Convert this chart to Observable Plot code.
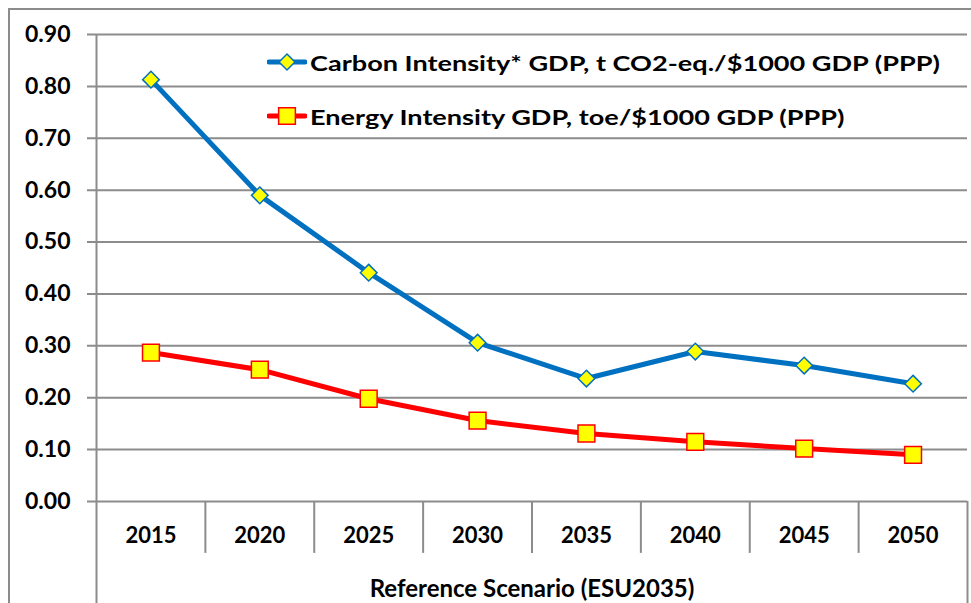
<!DOCTYPE html>
<html>
<head>
<meta charset="utf-8">
<script src="https://cdn.jsdelivr.net/npm/d3@7"></script>
<script src="https://cdn.jsdelivr.net/npm/@observablehq/plot@0.6"></script>
<style>
  html, body { margin: 0; padding: 0; background: #fff; }
  body { width: 971px; height: 603px; position: relative; overflow: hidden; font-family: Lato, "Open Sans", sans-serif; }
  #frame { position: absolute; left: 8px; top: 8px; width: 1000px; height: 700px; border-left: 2px solid #8c8c8c; border-top: 2px solid #8c8c8c; box-sizing: border-box; }
  #chart { position: absolute; left: 0; top: 0; }
  #legend { position: absolute; left: 267px; top: 46px; font-weight: bold; font-size: 21px; color: #000; }
  .row { display: flex; align-items: center; height: 32px; margin-bottom: 22px; white-space: nowrap; }
  .row svg { margin-right: 3px; flex: none; }
  .row span { display: inline-block; transform: scaleX(1.29); transform-origin: left center; }
</style>
</head>
<body>
<div id="frame"></div>
<div id="chart"></div>
<div id="legend"></div>
<script>
const years = [2015, 2020, 2025, 2030, 2035, 2040, 2045, 2050];
const carbonIntensity = [0.813, 0.590, 0.441, 0.306, 0.237, 0.289, 0.262, 0.227];
const energyIntensity = [0.287, 0.254, 0.198, 0.156, 0.131, 0.115, 0.102, 0.090];
const yTicks = [0, 0.1, 0.2, 0.3, 0.4, 0.5, 0.6, 0.7, 0.8, 0.9];
const seriesNames = [
  "Carbon Intensity* GDP, t CO2-eq./$1000 GDP (PPP)",
  "Energy Intensity GDP, toe/$1000 GDP (PPP)"
];
const xAxisLabel = "Reference Scenario (ESU2035)";

const blue = "#0070C0", red = "#FF0000", yellow = "#FFFF00", grid = "#8c8c8c";

const carbonData = years.map((year, i) => ({year, value: carbonIntensity[i]}));
const energyData = years.map((year, i) => ({year, value: energyIntensity[i]}));

const half = (years[1] - years[0]) / 2;
const bounds = years.map(y => y - half).concat([years[years.length - 1] + half]);
const innerBounds = bounds.slice(1, -1);
const outerBounds = [bounds[0], bounds[bounds.length - 1]];
const yStep = yTicks[1] - yTicks[0];

const chart = Plot.plot({
  width: 971,
  height: 603,
  marginLeft: 96,
  marginRight: 4,
  marginTop: 34,
  marginBottom: 102,
  style: {fontFamily: "Lato, 'Open Sans', sans-serif", background: "transparent", overflow: "visible"},
  x: {type: "linear", domain: [bounds[0], bounds[bounds.length - 1]]},
  y: {domain: [0, 0.9]},
  marks: [
    Plot.ruleY(yTicks, {stroke: grid, strokeWidth: 2, insetLeft: -9}),
    Plot.ruleX(innerBounds, {y1: 0, y2: -yStep, stroke: grid, strokeWidth: 2}),
    Plot.ruleX(outerBounds.slice(0, 1), {y1: yTicks[yTicks.length - 1], y2: -2 * yStep, stroke: grid, strokeWidth: 2}),
    Plot.ruleX(outerBounds.slice(1), {y1: 0, y2: -2 * yStep, stroke: grid, strokeWidth: 2}),
    Plot.axisY({ticks: yTicks, tickFormat: d3.format(".2f"), tickSize: 0, tickPadding: 26, fontSize: 23, fontWeight: "bold", fill: "#000", label: null}),
    Plot.axisX({ticks: years, tickFormat: d => String(d), tickSize: 0, tickPadding: 26, fontSize: 22, fontWeight: "bold", fill: "#000", label: null}),
    Plot.axisX({ticks: [], tickSize: 0, fontSize: 24, fontWeight: "bold", fill: "#000",
      label: xAxisLabel, labelAnchor: "center", labelArrow: "none", labelOffset: 95}),
    Plot.line(energyData, {x: "year", y: "value", stroke: red, strokeWidth: 5}),
    Plot.line(carbonData, {x: "year", y: "value", stroke: blue, strokeWidth: 5}),
    Plot.dot(energyData, {x: "year", y: "value", symbol: "square", r: 9.5, fill: yellow, stroke: red, strokeWidth: 1.5}),
    Plot.dot(carbonData, {x: "year", y: "value", symbol: "diamond2", r: 7.5, fill: yellow, stroke: blue, strokeWidth: 1.5})
  ]
});
document.getElementById("chart").appendChild(chart);

// legend
const legend = d3.select("#legend");
const entries = [
  {name: seriesNames[0], color: blue, symbol: d3.symbolDiamond2, size: 160},
  {name: seriesNames[1], color: red, symbol: d3.symbolSquare, size: 280}
];
entries.forEach(e => {
  const row = legend.append("div").attr("class", "row");
  const svg = row.append("svg").attr("width", 40).attr("height", 24);
  svg.append("line").attr("x1", 2).attr("x2", 38).attr("y1", 12).attr("y2", 12)
    .attr("stroke", e.color).attr("stroke-width", 5).attr("stroke-linecap", "round");
  svg.append("path").attr("d", d3.symbol(e.symbol, e.size)()).attr("transform", "translate(20,12)")
    .attr("fill", yellow).attr("stroke", e.color).attr("stroke-width", 1.5);
  row.append("span").text(e.name);
});
</script>
</body>
</html>
